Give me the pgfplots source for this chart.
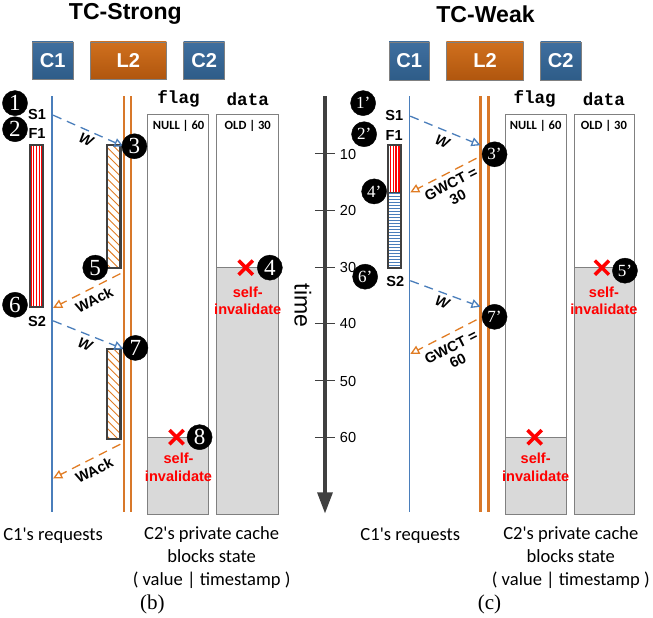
\documentclass[border=0pt]{standalone}
\usepackage{pgfplots}
\pgfplotsset{compat=1.18}
\usepackage{fontspec}
\setmainfont{Liberation Sans}
\newfontfamily\calib{Carlito}
\newfontfamily\timesf{Liberation Serif}
\newfontfamily\courf{Liberation Mono}
\usetikzlibrary{arrows.meta,patterns.meta}
\definecolor{lineblue}{HTML}{4A7EBB}
\definecolor{boxblue}{HTML}{3F6F9F}
\definecolor{boxblued}{HTML}{2E5C88}
\definecolor{boxor}{HTML}{D0701E}
\definecolor{boxord}{HTML}{B0560E}
\definecolor{l2or}{HTML}{D8782A}
\definecolor{arror}{HTML}{E07C24}
\definecolor{dark}{HTML}{404040}
\definecolor{cgray}{HTML}{808080}
\definecolor{fillg}{HTML}{D9D9D9}
\newcommand{\fs}[1]{\fontsize{#1}{#1}\selectfont}
\newcommand{\fsl}[2]{\fontsize{#1}{#2}\selectfont}
\tikzset{
  lbl/.style={font=\bfseries\fs{14.5}, inner sep=0pt},
  red lbl/.style={font=\bfseries\fsl{14.5}{17}, text=red, align=center, inner sep=0pt},
  bluearr/.style={lineblue, line width=1.3pt, dash pattern=on 9pt off 6pt, -{Triangle[open, length=9pt, width=9pt]}},
  orarr/.style={arror, line width=1.3pt, dash pattern=on 9pt off 6pt, -{Triangle[open, length=9pt, width=9pt]}},
}
\pgfplotsset{
  circ/.style={only marks, mark=*, mark size=12.5pt, mark options={fill=black, draw=black},
    point meta=explicit symbolic, nodes near coords,
    every node near coord/.append style={anchor=center, inner sep=0pt, text=white}},
  xmk/.style={only marks, mark=x, mark size=10pt, mark options={red, line width=3.5pt}},
}
\begin{document}
\begin{tikzpicture}
\begin{axis}[scale only axis, width=653pt, height=629pt,
  xmin=0, xmax=653, ymin=0, ymax=629, y dir=reverse, hide axis, clip=false]
% ---- titles
\node[font=\bfseries\fs{23}] at (axis cs:130,15) {TC-Strong};
\node[font=\bfseries\fs{23}] at (axis cs:489,15) {TC-Weak};
% ---- header boxes
\addplot[draw=cgray, top color=boxblue, bottom color=boxblued] coordinates {(37,43) (78,43) (78,80) (37,80)} --cycle;
\addplot[draw=cgray, top color=boxor, bottom color=boxord] coordinates {(95,43) (171,43) (171,80) (95,80)} --cycle;
\addplot[draw=cgray, top color=boxblue, bottom color=boxblued] coordinates {(188,43) (229,43) (229,80) (188,80)} --cycle;
\addplot[draw=cgray, top color=boxblue, bottom color=boxblued] coordinates {(393,43) (433,43) (433,81) (393,81)} --cycle;
\addplot[draw=cgray, top color=boxor, bottom color=boxord] coordinates {(450,43) (527,43) (527,81) (450,81)} --cycle;
\addplot[draw=cgray, top color=boxblue, bottom color=boxblued] coordinates {(544,43) (584,43) (584,81) (544,81)} --cycle;
\node[font=\bfseries\fs{20}, text=white] at (axis cs:57.5,61.5) {C1};
\node[font=\bfseries\fs{20}, text=white] at (axis cs:133,61.5) {L2};
\node[font=\bfseries\fs{20}, text=white] at (axis cs:208.5,61.5) {C2};
\node[font=\bfseries\fs{20}, text=white] at (axis cs:413,62) {C1};
\node[font=\bfseries\fs{20}, text=white] at (axis cs:488.5,62) {L2};
\node[font=\bfseries\fs{20}, text=white] at (axis cs:564,62) {C2};
% ---- cache columns (left)
\addplot[draw=cgray, fill=white] coordinates {(152,115) (213,115) (213,514) (152,514)} --cycle;
\addplot[draw=cgray, fill=fillg] coordinates {(152,437) (213,437) (213,514) (152,514)} --cycle;
\addplot[draw=cgray, fill=white] coordinates {(221,115) (282,115) (282,514) (221,514)} --cycle;
\addplot[draw=cgray, fill=fillg] coordinates {(221,268) (282,268) (282,514) (221,514)} --cycle;
% ---- cache columns (right)
\addplot[draw=cgray, fill=white] coordinates {(509,115) (569,115) (569,514) (509,514)} --cycle;
\addplot[draw=cgray, fill=fillg] coordinates {(509,437) (569,437) (569,514) (509,514)} --cycle;
\addplot[draw=cgray, fill=white] coordinates {(577,115) (637,115) (637,514) (577,514)} --cycle;
\addplot[draw=cgray, fill=fillg] coordinates {(577,268) (637,268) (637,514) (577,514)} --cycle;
\node[font=\courf\bfseries\fs{17.5}] at (axis cs:183,100) {flag};
\node[font=\courf\bfseries\fs{17.5}] at (axis cs:252,100) {data};
\node[font=\courf\bfseries\fs{17.5}] at (axis cs:538,100) {flag};
\node[font=\courf\bfseries\fs{17.5}] at (axis cs:607,100) {data};
\node[font=\calib\bfseries\fs{12.5}] at (axis cs:183,127) {NULL | 60};
\node[font=\calib\bfseries\fs{12.5}] at (axis cs:252,127) {OLD | 30};
\node[font=\calib\bfseries\fs{12.5}] at (axis cs:539,127) {NULL | 60};
\node[font=\calib\bfseries\fs{12.5}] at (axis cs:607,127) {OLD | 30};
% ---- C1 and L2 lines
\addplot[lineblue, line width=1.5pt] coordinates {(57,97) (57,512)};
\addplot[lineblue, line width=1.5pt] coordinates {(413,97) (413,512)};
\addplot[l2or, line width=2.2pt] coordinates {(129,97) (129,512)};
\addplot[l2or, line width=2.2pt] coordinates {(136,97) (136,512)};
\addplot[l2or, line width=2.2pt] coordinates {(484,97) (484,512)};
\addplot[l2or, line width=2.2pt] coordinates {(492,97) (492,512)};
% ---- bars left
\addplot[draw=none, pattern={Lines[angle=90, distance=2.8pt, line width=1.3pt]}, pattern color=red] coordinates {(35,146) (48,146) (48,307) (35,307)} --cycle;
\addplot[draw=dark, line width=2.3pt] coordinates {(35,146) (48,146) (48,307) (35,307)} --cycle;
\addplot[draw=none, pattern={Lines[angle=-45, distance=5.5pt, line width=0.9pt]}, pattern color=arror] coordinates {(112,146) (125,146) (125,268) (112,268)} --cycle;
\addplot[draw=dark, line width=2.3pt] coordinates {(112,146) (125,146) (125,268) (112,268)} --cycle;
\addplot[draw=none, pattern={Lines[angle=-45, distance=5.5pt, line width=0.9pt]}, pattern color=arror] coordinates {(112,349) (125,349) (125,439) (112,439)} --cycle;
\addplot[draw=dark, line width=2.3pt] coordinates {(112,349) (125,349) (125,439) (112,439)} --cycle;
% ---- bars right
\addplot[draw=none, pattern={Lines[angle=90, distance=2.8pt, line width=1.3pt]}, pattern color=red] coordinates {(392,146) (405,146) (405,193) (392,193)} --cycle;
\addplot[draw=none, pattern={Lines[angle=0, distance=3pt, line width=1.3pt]}, pattern color=lineblue] coordinates {(392,193) (405,193) (405,268) (392,268)} --cycle;
\addplot[draw=dark, line width=2.3pt] coordinates {(392,146) (405,146) (405,268) (392,268)} --cycle;
\addplot[draw=dark, line width=1.5pt] coordinates {(392,193) (405,193)};
% ---- arrows left
\addplot[bluearr] coordinates {(58,116) (128,147)};
\addplot[bluearr] coordinates {(58,321) (128,349)};
\addplot[orarr] coordinates {(125,274) (58,308)};
\addplot[orarr] coordinates {(125,444) (58,478)};
\node[lbl, font=\bfseries\itshape\fs{14.5}, rotate=-24] at (axis cs:91,140) {W};
\node[lbl, font=\bfseries\itshape\fs{14.5}, rotate=-22] at (axis cs:90,345) {W};
\node[lbl, rotate=27] at (axis cs:99,300) {WAck};
\node[lbl, rotate=27] at (axis cs:99,470) {WAck};
% ---- arrows right
\addplot[bluearr] coordinates {(414,117) (484,146)};
\addplot[bluearr] coordinates {(414,281) (484,307)};
\addplot[orarr] coordinates {(480,159) (414,193)};
\addplot[orarr] coordinates {(480,320) (414,354)};
\node[lbl, font=\bfseries\itshape\fs{14.5}, rotate=-23] at (axis cs:446,142) {W};
\node[lbl, font=\bfseries\itshape\fs{14.5}, rotate=-21] at (axis cs:446,303) {W};
\node[lbl, rotate=27, align=center, font=\bfseries\fsl{14.5}{15}] at (axis cs:458,191) {GWCT =\\30};
\node[lbl, rotate=27, align=center, font=\bfseries\fsl{14.5}{15}] at (axis cs:458,354) {GWCT =\\60};
% ---- S/F labels
\node[lbl] at (axis cs:42,115) {S1};
\node[lbl] at (axis cs:42,134) {F1};
\node[lbl] at (axis cs:42,322) {S2};
\node[lbl] at (axis cs:398,116) {S1};
\node[lbl] at (axis cs:398,136) {F1};
\node[lbl] at (axis cs:399,282) {S2};
% ---- time axis
\addplot[dark, line width=3pt, -{Triangle[length=21pt, width=15pt]}] coordinates {(329,97) (329,513)};
\addplot[dark, line width=1pt] coordinates {(319,154.5) (339,154.5)};
\addplot[dark, line width=1pt] coordinates {(319,211) (339,211)};
\addplot[dark, line width=1pt] coordinates {(319,267.5) (339,267.5)};
\addplot[dark, line width=1pt] coordinates {(319,324) (339,324)};
\addplot[dark, line width=1pt] coordinates {(319,380.5) (339,380.5)};
\addplot[dark, line width=1pt] coordinates {(319,437) (339,437)};
\node[font=\fs{14.5}] at (axis cs:352,155) {10};
\node[font=\fs{14.5}] at (axis cs:352,211) {20};
\node[font=\fs{14.5}] at (axis cs:352,268) {30};
\node[font=\fs{14.5}] at (axis cs:352,324) {40};
\node[font=\fs{14.5}] at (axis cs:352,381) {50};
\node[font=\fs{14.5}] at (axis cs:352,437) {60};
\node[font=\fs{23}, rotate=-90] at (axis cs:307,306) {time};
% ---- red X marks
\addplot[xmk] coordinates {(250,268) (181,437) (605,268) (538,437)};
\node[red lbl] at (axis cs:252,301) {self-\\invalidate};
\node[red lbl] at (axis cs:183,467) {self-\\invalidate};
\node[red lbl] at (axis cs:607,301) {self-\\invalidate};
\node[red lbl] at (axis cs:539,467) {self-\\invalidate};
% ---- circled numbers
\addplot[circ, every node near coord/.append style={font=\timesf\fs{23}}] coordinates {
  (20,104) [1] (20,130) [2] (139,147) [3] (274,268) [4] (100,268) [5] (20,305) [6] (140,348) [7] (204,437) [8]};
\addplot[circ, every node near coord/.append style={font=\timesf\fs{17}}] coordinates {
  (367,104) [1’] (368,135) [2’] (498,155) [3’] (378,192) [4’] (628,271) [5’] (369,277) [6’] (498,317) [7’]};
% ---- bottom captions
\node[font=\calib\fs{18.5}] at (axis cs:58,535) {C1's requests};
\node[font=\calib\fsl{18.5}{22.5}, align=center] at (axis cs:216,557) {C2's private cache\\blocks state\\( value | timestamp )};
\node[font=\calib\fs{18.5}] at (axis cs:414,535) {C1's requests};
\node[font=\calib\fsl{18.5}{22.5}, align=center] at (axis cs:574,557) {C2's private cache\\blocks state\\( value | timestamp )};
\node[font=\timesf\fs{21}] at (axis cs:157,604) {(b)};
\node[font=\timesf\fs{21}] at (axis cs:493,604) {(c)};
\end{axis}
\end{tikzpicture}
\end{document}
